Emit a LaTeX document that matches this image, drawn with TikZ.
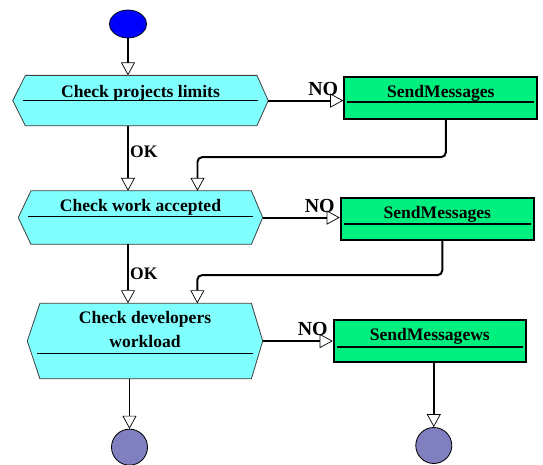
\documentclass[tikz,border=0pt]{standalone}
\usepackage{fontspec}
\setmainfont{Liberation Serif}
\usepackage{tikz}
\usetikzlibrary{arrows.meta,positioning,shapes.geometric,backgrounds}
\definecolor{ActCyan}{HTML}{80FFFF}
\definecolor{MsgGreen}{HTML}{00F080}
\definecolor{StartBlue}{HTML}{0000FF}
\definecolor{EndViolet}{HTML}{8080C0}

\begin{document}
\begin{tikzpicture}[every node/.style={font=\fontsize{15}{20.5}\selectfont\bfseries}]
\tikzset{checkbox/.style={rectangle, inner sep=0pt, align=center}}
\tikzset{hexline/.style={draw=black!75, line width=0.7pt, fill=ActCyan}}
\tikzset{msgbox/.style={draw, line width=1.8pt, fill=MsgGreen, minimum width=5.79cm, inner ysep=0pt, text height=0.62cm, text depth=0.64cm}}
\tikzset{endpoint/.style={circle, draw, line width=0.7pt, fill=EndViolet, minimum size=1.08cm, inner sep=0pt}}
\tikzset{arrow/.style={-{Triangle[open, length=3.9mm, width=4.2mm, line width=0.6pt]}, line width=1.7pt}}
\tikzset{nolabel/.style={pos=1, anchor=south east, inner sep=3.5pt, font=\fontsize{17}{20}\selectfont\bfseries}}
\tikzset{oklabel/.style={anchor=west, inner sep=1pt}}
\useasboundingbox (0,0) rectangle (16.29,-13.92);
\node[ellipse, draw, line width=0.6pt, fill=StartBlue, minimum width=1.11cm, minimum height=0.84cm, inner sep=0pt] (start) at (3.84,-0.72) {};
\node[checkbox, below=1.11cm of start, xshift=3.75mm, minimum width=7.65cm, text height=0.645cm, text depth=0.855cm] (chk1) {Check projects limits};
\node[checkbox, below=1.95cm of chk1, minimum width=7.32cm, text height=0.6cm, text depth=0.99cm] (chk2) {Check work accepted};
\node[checkbox, below=1.77cm of chk2, xshift=1.35mm, minimum width=7.05cm, text height=1.32cm, text depth=0.93cm] (chk3) {Check developers\\workload};
\node[msgbox, right=2.25cm of chk1, yshift=0.75mm] (send1) {SendMessages};
\node[msgbox, right=2.31cm of chk2, yshift=-0.45mm] (send2) {SendMessages};
\node[msgbox, right=2.1cm of chk3, minimum width=5.76cm] (send3) {SendMessagews};
\node[endpoint, below=1.5cm of chk3, xshift=-4.65mm] (end1) {};
\node[endpoint, below=1.92cm of send3, xshift=1.2mm] (end2) {};
% hexagon outlines behind the text
\begin{scope}[on background layer]
\foreach \b in {chk1,chk2,chk3}
  \draw[hexline] (\b.west) -- ([xshift=0.38cm]\b.north west) -- ([xshift=-0.34cm]\b.north east) -- (\b.east)
    -- ([xshift=-0.34cm]\b.south east) -- ([xshift=0.38cm]\b.south west) -- cycle;
\end{scope}
\foreach \b/\d in {chk1/0.75,chk2/0.78,chk3/1.5}
  \draw[line width=0.8pt] ([shift={(0.3,-\d)}]\b.north west) -- ([shift={(-0.3,-\d)}]\b.north east);
\foreach \b/\d in {send1/0.78,send2/0.81,send3/0.84}
  \draw[line width=1pt] ([shift={(0.12,-\d)}]\b.north west) -- ([shift={(-0.12,-\d)}]\b.north east);
% main flow
\draw[arrow] (start) -- (start |- chk1.north);
\draw[arrow] (chk1.south -| start) -- (chk2.north -| start) node[oklabel, pos=.4] {OK};
\draw[arrow] (chk2.south -| start) -- (chk3.north -| start) node[oklabel, pos=.5] {OK};
\draw[arrow] (end1 |- chk3.south) -- (end1);
% refused branches
\draw[arrow] (chk1.east) -- (chk1.east -| send1.west) node[nolabel] {NO};
\draw[arrow] (chk2.east) -- (chk2.east -| send2.west) node[nolabel] {NO};
\draw[arrow] (chk3.east) -- (chk3.east -| send3.west) node[nolabel] {NO};
\draw[arrow, rounded corners=4pt] ([xshift=1.5mm]send1.south) -- ++(0,-1.11) -| ([xshift=1.71cm]chk2.north);
\draw[arrow, rounded corners=4pt] ([xshift=1.5mm]send2.south) -- ++(0,-1.02) -| ([xshift=1.57cm]chk3.north);
\draw[arrow] (send3.south -| end2) -- (end2);
\end{tikzpicture}
\end{document}
